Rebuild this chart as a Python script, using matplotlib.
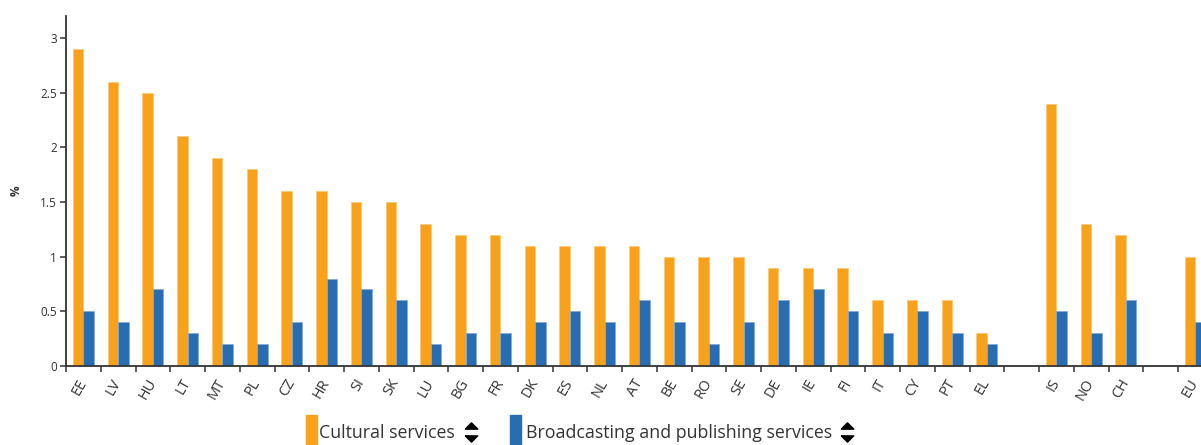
import numpy as np
import matplotlib
matplotlib.use("Agg")
import matplotlib.pyplot as plt
from matplotlib.patches import Rectangle
from matplotlib.lines import Line2D

# ---- data ----
categories = ["EE", "LV", "HU", "LT", "MT", "PL", "CZ", "HR", "SI", "SK", "LU", "BG",
              "FR", "DK", "ES", "NL", "AT", "BE", "RO", "SE", "DE", "IE", "FI", "IT",
              "CY", "PT", "EL", "", "IS", "NO", "CH", "", "EU"]
cultural = [2.9, 2.6, 2.5, 2.1, 1.9, 1.8, 1.6, 1.6, 1.5, 1.5, 1.3, 1.2,
            1.2, 1.1, 1.1, 1.1, 1.1, 1.0, 1.0, 1.0, 0.9, 0.9, 0.9, 0.6,
            0.6, 0.6, 0.3, None, 2.4, 1.3, 1.2, None, 1.0]
broadcasting = [0.5, 0.4, 0.7, 0.3, 0.2, 0.2, 0.4, 0.8, 0.7, 0.6, 0.2, 0.3,
                0.3, 0.4, 0.5, 0.4, 0.6, 0.4, 0.2, 0.4, 0.6, 0.7, 0.5, 0.3,
                0.5, 0.3, 0.2, None, 0.5, 0.3, 0.6, None, 0.4]
series_names = ["Cultural services", "Broadcasting and publishing services"]
y_ticks = [0, 0.5, 1, 1.5, 2, 2.5, 3]
y_tick_labels = ["0", "0.5", "1", "1.5", "2", "2.5", "3"]

ORANGE = "#F8A21B"
BLUE = "#286CB2"
TEXT = "#333333"

plt.rcParams["font.family"] = ["Open Sans", "DejaVu Sans"]

W, H = 1201, 445
fig = plt.figure(figsize=(W / 100, H / 100), dpi=100)

def fx(px):
    return px / W

def fy(py):
    return 1 - py / H

n = len(categories)
band = 34.75
ax_left, ax_bottom_px, ax_top_px = 66, 366, 16
ax = fig.add_axes([fx(ax_left), fy(ax_bottom_px), (n * band) / W, (ax_bottom_px - ax_top_px) / H])

x = np.arange(n)
c_vals = np.array([np.nan if v is None else v for v in cultural], dtype=float)
b_vals = np.array([np.nan if v is None else v for v in broadcasting], dtype=float)
bw = 0.305
ax.bar(x - bw / 2, c_vals, width=bw, color=ORANGE, edgecolor="#FCC977", linewidth=0.5)
ax.bar(x + bw / 2, b_vals, width=bw, color=BLUE, edgecolor="#7FA8D6", linewidth=0.5)

ax.set_xlim(-0.5, n - 0.5)
ax.set_ylim(0, 3.2)

for s in ["top", "right"]:
    ax.spines[s].set_visible(False)
for s in ["left", "bottom"]:
    ax.spines[s].set_color(TEXT)
    ax.spines[s].set_linewidth(1.3)

ax.set_yticks(y_ticks)
ax.set_yticklabels(y_tick_labels)
ax.tick_params(axis="y", direction="out", length=4.5, width=1.1, color=TEXT,
               labelsize=8.5, labelcolor=TEXT, pad=2)

ax.set_xticks(x)
ax.set_xticklabels(categories)
ax.set_xticks(np.arange(n + 1) - 0.5, minor=True)
ax.tick_params(axis="x", which="major", length=0, labelsize=10.5, labelcolor=TEXT, pad=10)
ax.tick_params(axis="x", which="minor", direction="out", length=4.5, width=1.1, color=TEXT)
for lab in ax.get_xticklabels():
    lab.set_rotation(60)
    lab.set_ha("right")
    lab.set_va("center")
    lab.set_rotation_mode("anchor")

ax.set_ylabel("%", fontsize=8.5, color=TEXT, fontweight="bold")
ax.yaxis.set_label_coords((23 - ax_left) / (n * band), 0.5)

# ---- legend (manual, bottom) ----
def sort_icon(cx, cy):
    up = [(-1, -0.1), (1, -0.1), (0, 0.9), (-1, -0.1)]
    down = [(-1, 0.1), (1, 0.1), (0, -0.9), (-1, 0.1)]
    fig.add_artist(Line2D([fx(cx)], [fy(cy - 3.6)], marker=up, ms=9, color="black",
                          linestyle="none", transform=fig.transFigure))
    fig.add_artist(Line2D([fx(cx)], [fy(cy + 3.6)], marker=down, ms=9, color="black",
                          linestyle="none", transform=fig.transFigure))

items = [(306, 319, 471, ORANGE, series_names[0]),
         (510, 526, 847, BLUE, series_names[1])]
for rx, tx, ix, col, name in items:
    fig.add_artist(Rectangle((fx(rx), 0), 11 / W, (H - 415) / H, color=col,
                             transform=fig.transFigure))
    fig.text(fx(tx), fy(438), name, fontsize=12.8, color=TEXT, va="baseline", ha="left")
    sort_icon(ix, 432)

fig.savefig("out.png", dpi=100)
